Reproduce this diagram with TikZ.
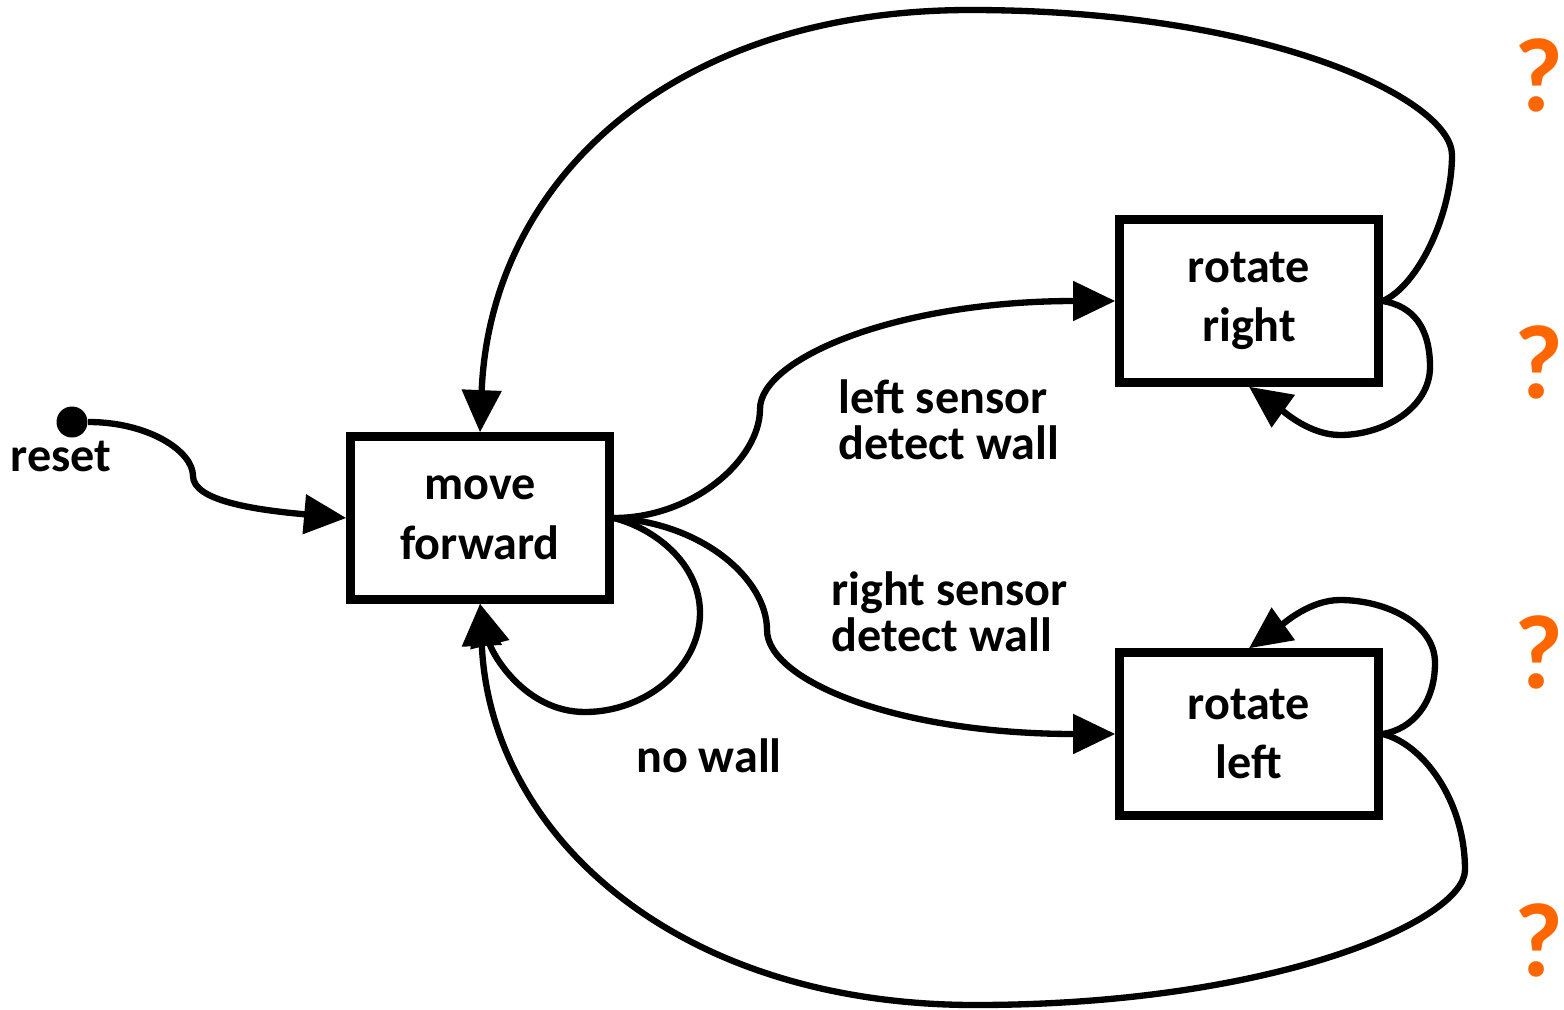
\documentclass[tikz,border=0pt]{standalone}
\usepackage{fontspec}
\setmainfont{Carlito}
\usetikzlibrary{arrows.meta}
\definecolor{qorange}{HTML}{FF6600}
\tikzset{
  stbox/.style={draw=black,line width=2.4pt,minimum width=2.59cm,minimum height=1.63cm,align=center,font=\fontsize{13.7}{17}\selectfont\bfseries,inner sep=2pt},
  arr/.style={-{Triangle[length=12pt,width=11pt]},line width=1.8pt},
  lbl/.style={font=\fontsize{13.7}{13}\selectfont\bfseries,align=left,inner sep=0pt},
  qmark/.style={font=\fontsize{30}{30}\selectfont\bfseries,text=qorange,inner sep=0pt},
}

\begin{document}
\begin{tikzpicture}
  \useasboundingbox (0,0) rectangle (15.64,10.09);
  % states
  \node[stbox] (mf) at (4.80,4.91) {move\\forward};
  \node[stbox] (rr) at (12.49,7.08) {rotate\\right};
  \node[stbox] (rl) at (12.49,2.75) {rotate\\left};
  % reset
  \node[circle,fill=black,inner sep=0pt,minimum size=0.31cm] (rst) at (0.72,5.87) {};
  \node[lbl] (rstlbl) at (0.61,5.53) {reset};
  % bends of the curved connectors
  \coordinate (rmid) at (1.93,5.33);
  \coordinate (fr1) at (7.60,6.00);
  \coordinate (fl1) at (7.67,3.79);
  \coordinate (nw1) at (7.00,3.96);
  \coordinate (nw2) at (5.85,2.97);
  \coordinate (rrl1) at (14.30,6.42);
  \coordinate (rrl2) at (13.40,5.74);
  \coordinate (rlo1) at (14.35,3.46);
  \coordinate (rlo2) at (13.40,4.09);
  \coordinate (rb1) at (14.52,8.54);
  \coordinate (rb2) at (9.70,9.99);
  \coordinate (lb1) at (14.65,1.39);
  \coordinate (lb2) at (9.75,0.04);
  % transitions
  \draw[arr] (rst.east) .. controls +(0.6,0) and +(0,0.25) .. (rmid)
    .. controls +(0,-0.25) and +(-0.9,0.08) .. (mf.west);
  \draw[arr] (mf.east) .. controls +(0.8,0) and +(0,-0.5) .. (fr1)
    .. controls +(0,0.5) and +(-2.2,0) .. (rr.west);
  \draw[arr] (mf.east) .. controls +(0.9,-0.05) and +(0,0.5) .. (fl1)
    .. controls +(0,-0.5) and +(-2.2,0) .. (rl.west);
  \draw[arr] (mf.east) .. controls +(0.4,-0.1) and +(0,0.5) .. (nw1)
    .. controls +(0,-0.55) and +(0.6,0) .. (nw2)
    .. controls +(-0.6,0) and +(0.12,-0.5) .. (mf.south);
  \draw[arr] (rr.east) .. controls +(0.3,-0.05) and +(0,0.4) .. (rrl1)
    .. controls +(0,-0.4) and +(0.45,0) .. (rrl2)
    .. controls +(-0.3,0) and +(0.35,-0.25) .. (rr.south);
  \draw[arr] (rl.east) .. controls +(0.3,0.05) and +(0,-0.4) .. (rlo1)
    .. controls +(0,0.4) and +(0.45,0) .. (rlo2)
    .. controls +(-0.3,0) and +(0.35,0.25) .. (rl.north);
  \draw[arr] (rr.east) .. controls +(0.35,0.15) and +(0,-0.6) .. (rb1)
    .. controls +(0,0.55) and +(3.0,0) .. (rb2)
    .. controls +(-3.0,0) and +(0.1,2.5) .. (mf.north);
  \draw[arr] (rl.east) .. controls +(0.4,-0.1) and +(0,0.7) .. (lb1)
    .. controls +(0,-0.5) and +(3.0,0) .. (lb2)
    .. controls +(-3.0,0) and +(0.1,-2.3) .. (mf.south);
  % labels
  \node[lbl,anchor=west] (lsens) at (8.38,5.89) {left sensor\\detect wall};
  \node[lbl,anchor=west] (rsens) at (8.31,3.97) {right sensor\\detect wall};
  \node[lbl] (nowall) at (7.09,2.53) {no wall};
  % question marks
  \foreach \y [count=\i] in {9.34,6.47,3.57,0.69}
    \node[qmark] (q\i) at (15.39,\y) {?};
\end{tikzpicture}
\end{document}
